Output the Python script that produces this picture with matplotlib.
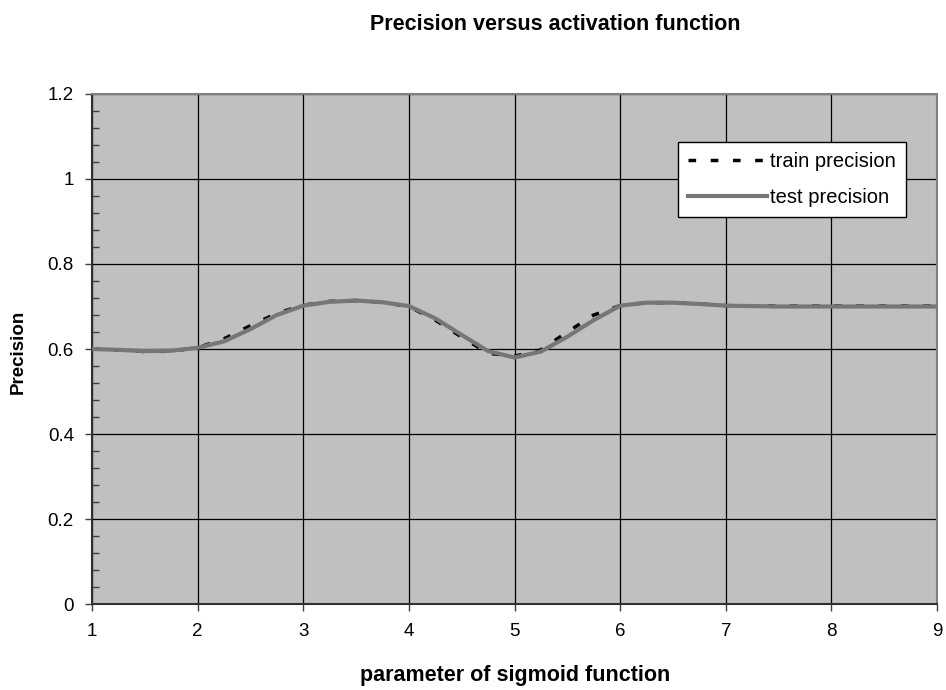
import matplotlib.pyplot as plt
from matplotlib.ticker import MultipleLocator, FuncFormatter

plt.rcParams['font.family'] = ['Liberation Sans', 'DejaVu Sans']

# data
param = [1.0, 1.25, 1.5, 1.75, 2.0, 2.25, 2.5, 2.75, 3.0, 3.25, 3.5, 3.75, 4.0,
         4.25, 4.5, 4.75, 5.0, 5.25, 5.5, 5.75, 6.0, 6.25, 6.5, 6.75, 7.0,
         7.5, 8.0, 8.5, 9.0]
train_precision = [0.600, 0.598, 0.594, 0.595, 0.603, 0.624, 0.655, 0.684, 0.703, 0.712, 0.714, 0.710, 0.700,
                   0.668, 0.628, 0.590, 0.583, 0.598, 0.640, 0.680, 0.702, 0.709, 0.709, 0.706, 0.702,
                   0.701, 0.701, 0.701, 0.701]
test_precision = [0.600, 0.598, 0.595, 0.596, 0.603, 0.618, 0.647, 0.680, 0.702, 0.711, 0.714, 0.710, 0.701,
                  0.672, 0.633, 0.595, 0.580, 0.594, 0.629, 0.668, 0.702, 0.709, 0.709, 0.706, 0.702,
                  0.700, 0.700, 0.700, 0.700]

fig = plt.figure(figsize=(9.46, 6.9), dpi=100)
ax = fig.add_axes([0.0973, 0.1246, 0.8932, 0.7392])
ax.set_facecolor('#C0C0C0')

ax.plot(param, train_precision, color='black', linewidth=2.5, linestyle=(0, (2.2, 4.2)),
        label='train precision', zorder=3)
ax.plot(param, test_precision, color='#767676', linewidth=3, label='test precision', zorder=4)

ax.set_xlim(1, 9)
ax.set_ylim(0, 1.2)
ax.xaxis.set_major_locator(MultipleLocator(1))
ax.yaxis.set_major_locator(MultipleLocator(0.2))
ax.yaxis.set_minor_locator(MultipleLocator(0.04))
ax.yaxis.set_major_formatter(FuncFormatter(lambda v, p: '%g' % round(v, 2)))
ax.tick_params(axis='both', which='major', labelsize=13.5, length=5, width=1, direction='out', color='#404040')
ax.tick_params(axis='y', which='minor', length=5, width=1, direction='in', color='#404040')
ax.tick_params(axis='x', pad=9)
ax.tick_params(axis='y', pad=8)

ax.grid(True, which='major', color='black', linewidth=0.9)
ax.set_axisbelow(True)
for side in ['left', 'bottom']:
    ax.spines[side].set_color('#303030')
    ax.spines[side].set_linewidth(1.5)
for side in ['top', 'right']:
    ax.spines[side].set_color('#808080')
    ax.spines[side].set_linewidth(1.5)

fig.text(0.587, 1 - 24 / 690, 'Precision versus activation function', fontsize=15.5,
         fontweight='bold', ha='center', va='center')
fig.text(0.545, 1 - 676 / 690, 'parameter of sigmoid function', fontsize=15.5,
         fontweight='bold', ha='center', va='center')
fig.text(18 / 946, 1 - 352 / 690, 'Precision', fontsize=13.5, fontweight='bold',
         ha='center', va='center', rotation=90)

leg = ax.legend(loc='upper right', bbox_to_anchor=(0.963, 0.906), fontsize=14.5, frameon=True,
                fancybox=False, edgecolor='black', framealpha=1, handlelength=3.9,
                handletextpad=0.15, borderpad=0.5, labelspacing=0.85, borderaxespad=0)
leg.get_frame().set_linewidth(1)

plt.savefig('out.png', dpi=100)
